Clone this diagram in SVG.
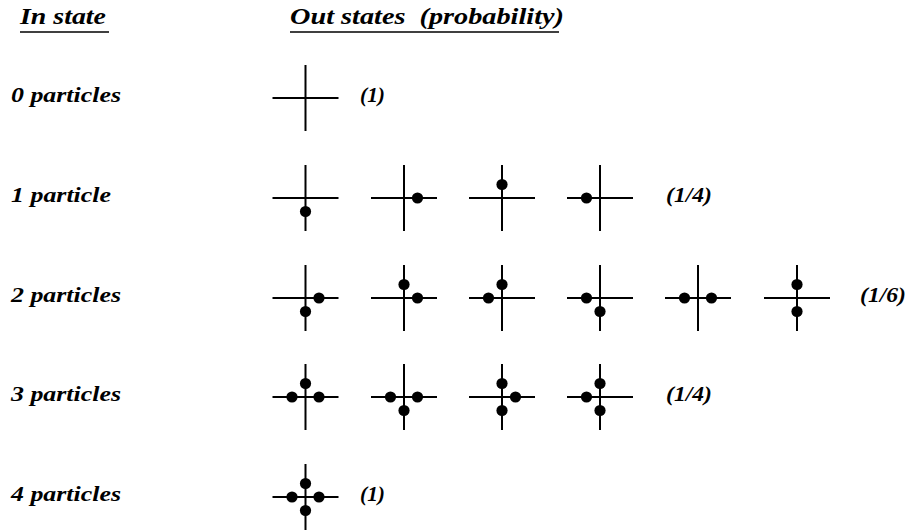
<svg xmlns="http://www.w3.org/2000/svg" xmlns:xlink="http://www.w3.org/1999/xlink" width="912" height="531" viewBox="0 0 912 531">
<style>
.t{font-family:"Liberation Serif","Times New Roman",serif;font-style:italic;font-weight:bold;font-size:22px;fill:#000;white-space:pre}
.h{font-size:23px}
.ln{stroke:#000;stroke-width:2;fill:none}
.ul{stroke:#000;stroke-width:1.6}
.dot{fill:#000}
</style>
<defs>
<g id="cross"><path class="ln" d="M-33 0H33M0 -33V33"/></g>
<circle id="dN" class="dot" cx="0" cy="-13.5" r="5.6"/>
<circle id="dS" class="dot" cx="0" cy="13.5" r="5.6"/>
<circle id="dE" class="dot" cx="13.5" cy="0" r="5.6"/>
<circle id="dW" class="dot" cx="-13.5" cy="0" r="5.6"/>
</defs>
<rect width="912" height="531" fill="#fff"/>
<g id="headers">
<text class="t h" x="20" y="24" textLength="86" lengthAdjust="spacingAndGlyphs">In state</text>
<line class="ul" x1="20" y1="32" x2="109" y2="32"/>
<text class="t h" x="290" y="24" textLength="274" lengthAdjust="spacingAndGlyphs" xml:space="preserve">Out states  (probability)</text>
<line class="ul" x1="290" y1="32" x2="559" y2="32"/>
</g>
<g id="labels">
<text class="t" x="11" y="102" textLength="110" lengthAdjust="spacingAndGlyphs">0 particles</text>
<text class="t" x="11" y="202" textLength="100" lengthAdjust="spacingAndGlyphs">1 particle</text>
<text class="t" x="11" y="302" textLength="110" lengthAdjust="spacingAndGlyphs">2 particles</text>
<text class="t" x="11" y="401" textLength="110" lengthAdjust="spacingAndGlyphs">3 particles</text>
<text class="t" x="11" y="501" textLength="110" lengthAdjust="spacingAndGlyphs">4 particles</text>
</g>
<g id="probabilities">
<text class="t" x="360" y="102" textLength="25" lengthAdjust="spacingAndGlyphs">(1)</text>
<text class="t" x="666" y="202" textLength="46" lengthAdjust="spacingAndGlyphs">(1/4)</text>
<text class="t" x="860" y="302" textLength="46" lengthAdjust="spacingAndGlyphs">(1/6)</text>
<text class="t" x="666" y="401" textLength="46" lengthAdjust="spacingAndGlyphs">(1/4)</text>
<text class="t" x="360" y="501" textLength="25" lengthAdjust="spacingAndGlyphs">(1)</text>
</g>
<g id="connectors"/>
<g id="s0" transform="translate(305.5,98)"><use xlink:href="#cross"/></g>
<g id="s1a" transform="translate(305.5,198)"><use xlink:href="#cross"/><use xlink:href="#dS"/></g>
<g id="s1b" transform="translate(404,198)"><use xlink:href="#cross"/><use xlink:href="#dE"/></g>
<g id="s1c" transform="translate(502,198)"><use xlink:href="#cross"/><use xlink:href="#dN"/></g>
<g id="s1d" transform="translate(600,198)"><use xlink:href="#cross"/><use xlink:href="#dW"/></g>
<g id="s2a" transform="translate(305.5,298)"><use xlink:href="#cross"/><use xlink:href="#dE"/><use xlink:href="#dS"/></g>
<g id="s2b" transform="translate(404,298)"><use xlink:href="#cross"/><use xlink:href="#dN"/><use xlink:href="#dE"/></g>
<g id="s2c" transform="translate(502,298)"><use xlink:href="#cross"/><use xlink:href="#dW"/><use xlink:href="#dN"/></g>
<g id="s2d" transform="translate(600,298)"><use xlink:href="#cross"/><use xlink:href="#dW"/><use xlink:href="#dS"/></g>
<g id="s2e" transform="translate(698,298)"><use xlink:href="#cross"/><use xlink:href="#dW"/><use xlink:href="#dE"/></g>
<g id="s2f" transform="translate(797,298)"><use xlink:href="#cross"/><use xlink:href="#dN"/><use xlink:href="#dS"/></g>
<g id="s3a" transform="translate(305.5,397)"><use xlink:href="#cross"/><use xlink:href="#dW"/><use xlink:href="#dN"/><use xlink:href="#dE"/></g>
<g id="s3b" transform="translate(404,397)"><use xlink:href="#cross"/><use xlink:href="#dW"/><use xlink:href="#dE"/><use xlink:href="#dS"/></g>
<g id="s3c" transform="translate(502,397)"><use xlink:href="#cross"/><use xlink:href="#dN"/><use xlink:href="#dE"/><use xlink:href="#dS"/></g>
<g id="s3d" transform="translate(600,397)"><use xlink:href="#cross"/><use xlink:href="#dN"/><use xlink:href="#dW"/><use xlink:href="#dS"/></g>
<g id="s4" transform="translate(305.5,497)"><use xlink:href="#cross"/><use xlink:href="#dN"/><use xlink:href="#dW"/><use xlink:href="#dE"/><use xlink:href="#dS"/></g>
</svg>
